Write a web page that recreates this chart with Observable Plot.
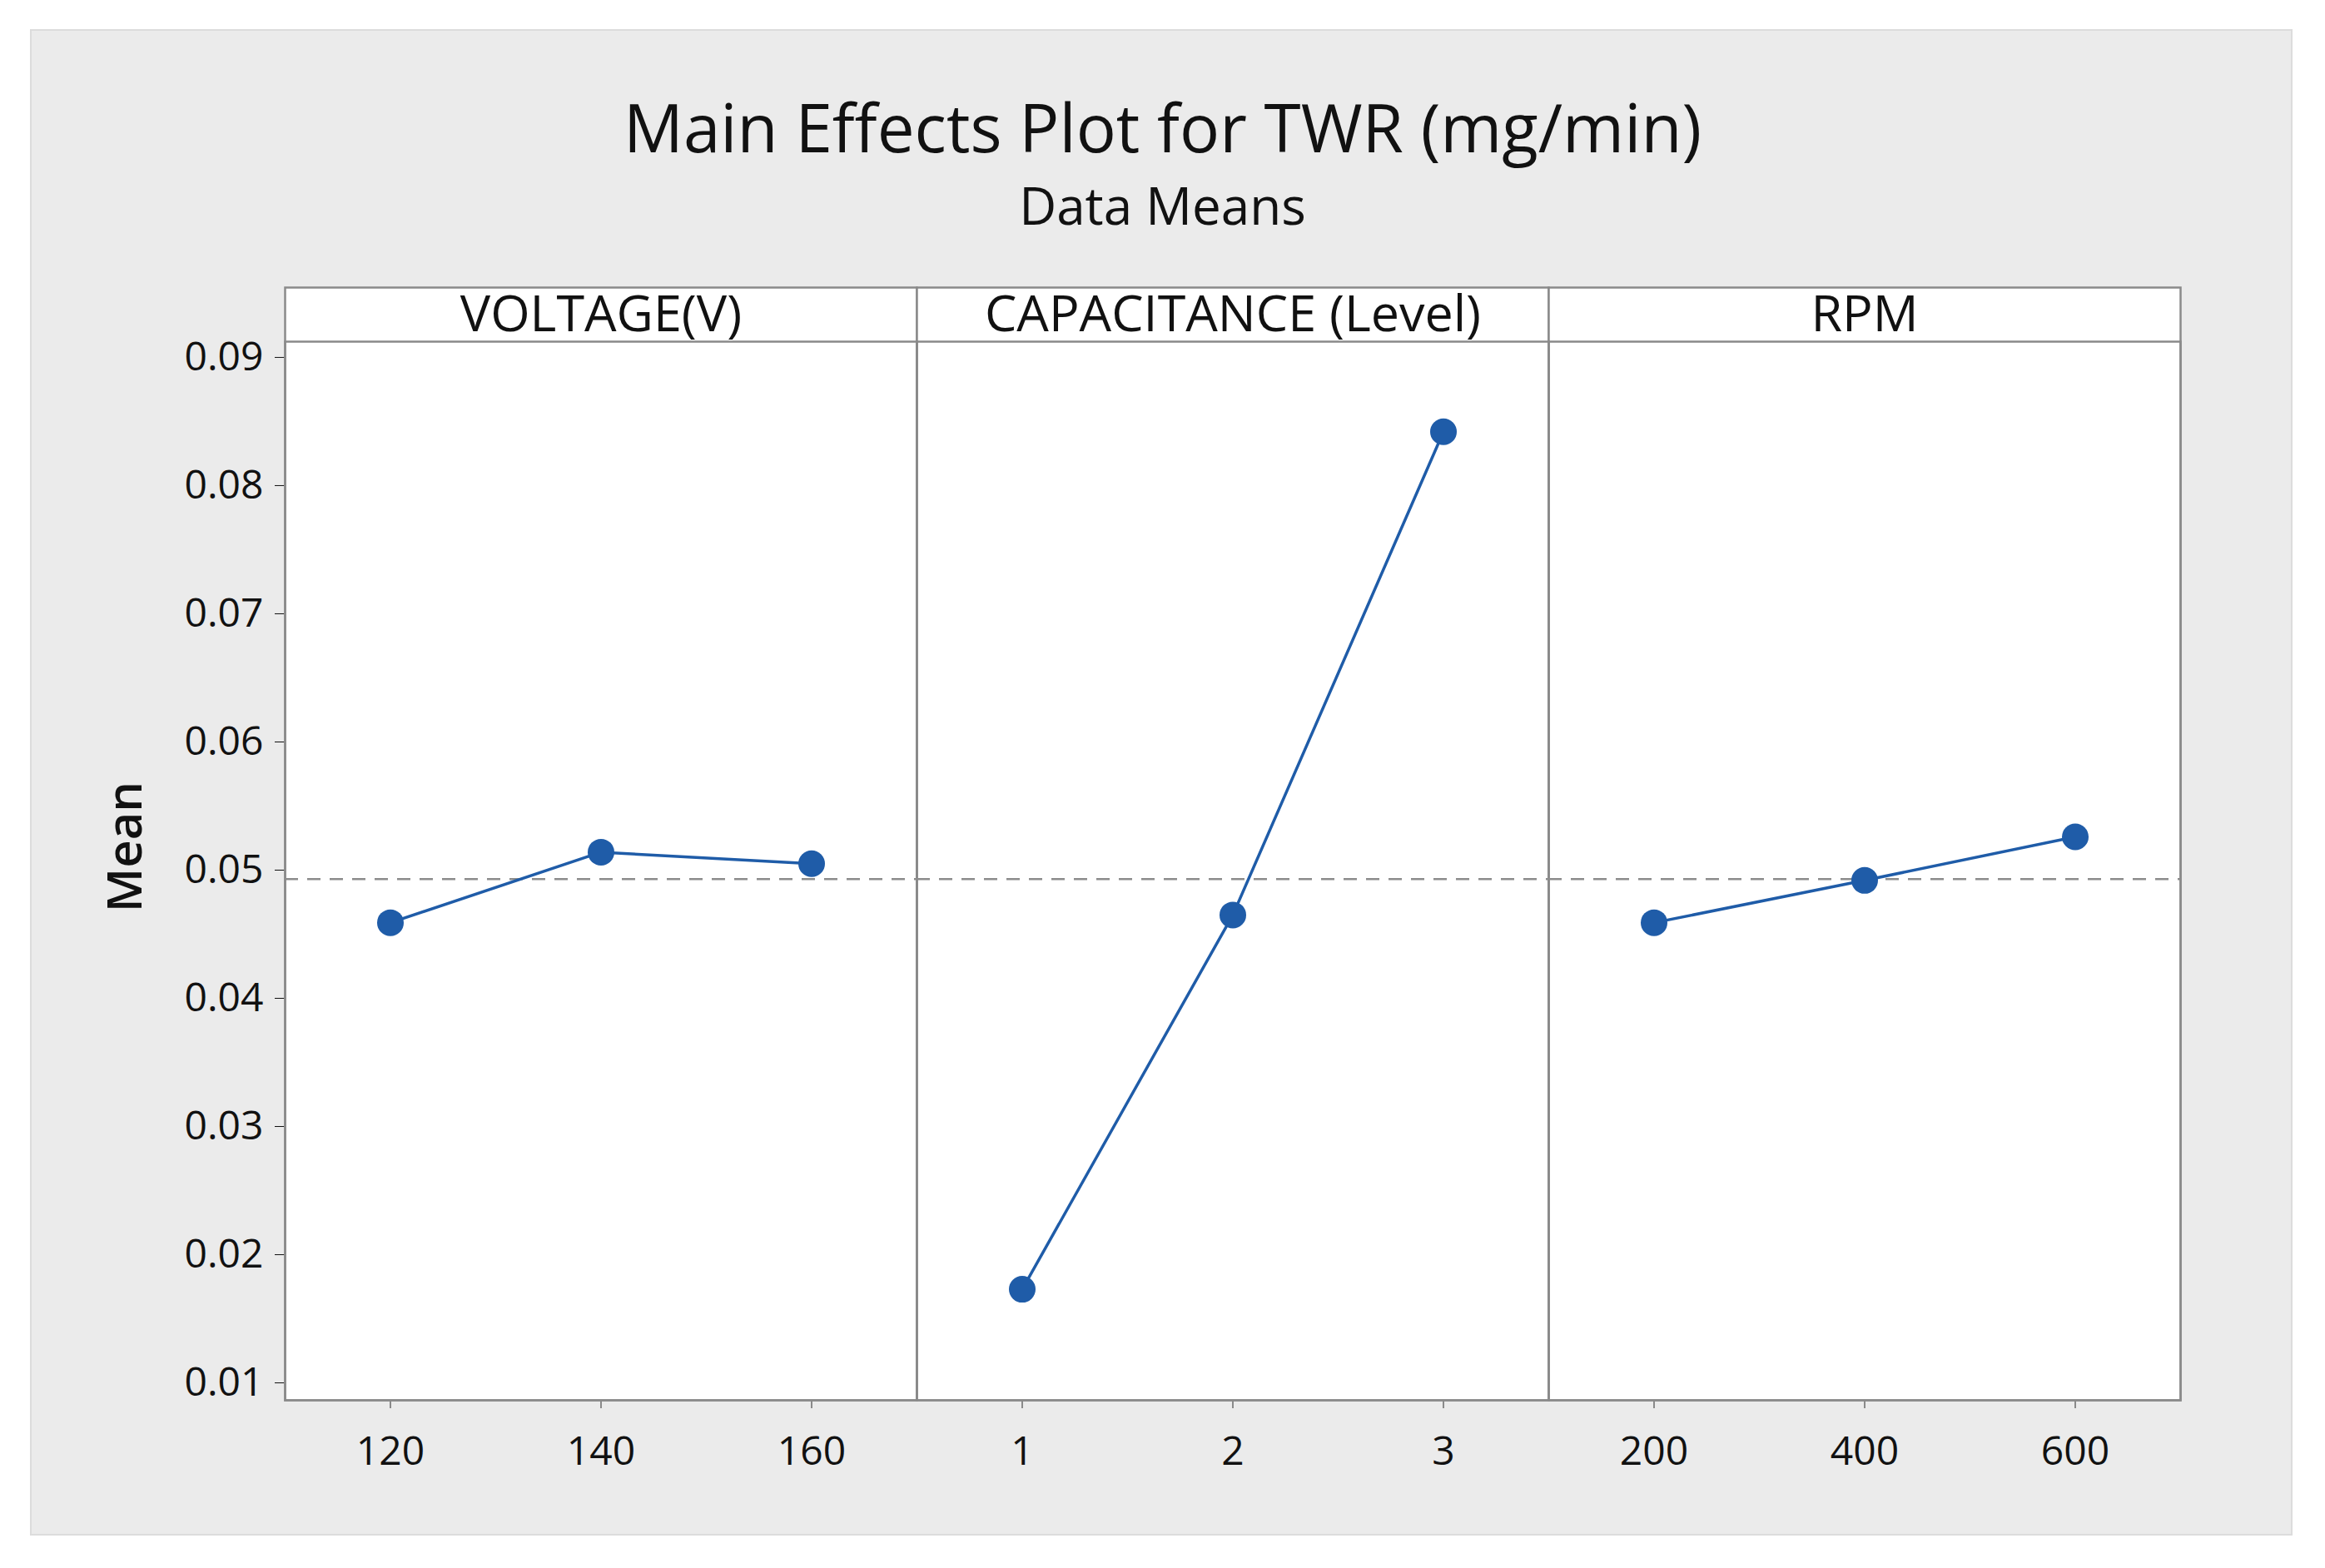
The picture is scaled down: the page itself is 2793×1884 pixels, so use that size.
<!DOCTYPE html>
<html>
<head>
<meta charset="utf-8">
<script src="https://cdn.jsdelivr.net/npm/d3@7"></script>
<script src="https://cdn.jsdelivr.net/npm/@observablehq/plot@0.6"></script>
<style>
  html, body { margin: 0; padding: 0; background: #ffffff; }
  body { width: 2793px; height: 1884px; position: relative; overflow: hidden; font-family: "Open Sans", sans-serif; }
  #panel { position: absolute; left: 36px; top: 35px; width: 2718px; height: 1810px; background: #ebebeb; border: 2px solid #dcdcdc; box-sizing: border-box; }
  .title { position: absolute; left: 0; width: 2793px; text-align: center; color: #111; font-weight: 500; }
  #title { top: 112px; font-size: 80px; line-height: 80px; }
  #subtitle { top: 215px; font-size: 62px; line-height: 62px; }
  #chart { position: absolute; left: 0; top: 290px; }
</style>
</head>
<body>
<div id="panel"></div>
<div class="title" id="title">Main Effects Plot for TWR (mg/min)</div>
<div class="title" id="subtitle">Data Means</div>
<div id="chart"></div>
<script>
// factors (panels) and their levels
const factors = ['VOLTAGE(V)', 'CAPACITANCE (Level)', 'RPM']
const voltageLevels = ['120', '140', '160']
const voltageMeans = [0.0459, 0.0514, 0.0505]
const capacitanceLevels = ['1', '2', '3']
const capacitanceMeans = [0.0173, 0.0465, 0.0842]
const rpmLevels = ['200', '400', '600']
const rpmMeans = [0.0459, 0.0492, 0.0526]
const grandMean = 0.0493
const yTicks = [0.01, 0.02, 0.03, 0.04, 0.05, 0.06, 0.07, 0.08, 0.09]

const levelsByFactor = [voltageLevels, capacitanceLevels, rpmLevels]
const meansByFactor = [voltageMeans, capacitanceMeans, rpmMeans]

let rows = []
factors.forEach((f, k) => {
  levelsByFactor[k].forEach((lev, i) => {
    rows.push({factor: f, i: i, level: lev, mean: meansByFactor[k][i]})
  })
})

const W = 2793, H = 1500
const mTop = 120, mBottom = 108, mLeft = 341, mRight = 174
const stripH = 65
const plotH = H - mTop - mBottom
const blue = '#1f5ca8'
const frameGray = '#8a8a8a'

let chart = Plot.plot({
  width: W,
  height: H,
  marginTop: mTop,
  marginBottom: mBottom,
  marginLeft: mLeft,
  marginRight: mRight,
  fx: { domain: factors, padding: 0, axis: null },
  x: { domain: [-0.5, 2.5], axis: null },
  y: {
    domain: [0.00864, 0.09123],
    ticks: yTicks,
    tickFormat: '.2f',
    tickSize: 12,
    tickPadding: 14,
    label: null
  },
  marks: [
    // strip header + plot area
    Plot.frame({ insetTop: -stripH, fill: 'white', stroke: frameGray, strokeWidth: 2.5 }),
    Plot.frame({ stroke: frameGray, strokeWidth: 2.5 }),
    Plot.text(factors, {
      fx: d => d, text: d => d, frameAnchor: 'top', dy: -stripH / 2,
      lineAnchor: 'middle', fontSize: 61, fontWeight: 500, fill: '#111'
    }),
    // overall mean
    Plot.ruleY([grandMean], { stroke: '#8c8c8c', strokeWidth: 2.5, strokeDasharray: '16,11' }),
    Plot.line(rows, { fx: 'factor', x: 'i', y: 'mean', stroke: blue, strokeWidth: 3.5 }),
    Plot.dot(rows, { fx: 'factor', x: 'i', y: 'mean', r: 16, fill: blue, stroke: 'none' }),
    // x ticks and level labels per panel
    Plot.ruleX(rows, { fx: 'factor', x: 'i', insetTop: plotH, insetBottom: -10, stroke: '#8a8a8a', strokeWidth: 2 }),
    Plot.text(rows, {
      fx: 'factor', x: 'i', text: 'level', frameAnchor: 'bottom', dy: 62,
      lineAnchor: 'middle', fontSize: 48, fill: '#111'
    }),
    Plot.text(['Mean'], {
      fx: () => factors[0], text: d => d, frameAnchor: 'left', dx: -191, dy: -29,
      rotate: -90, textAnchor: 'middle', lineAnchor: 'middle',
      fontSize: 58, fontWeight: 600, fill: '#111'
    })
  ],
  style: {
    fontFamily: 'Open Sans, sans-serif',
    fontSize: 48,
    background: 'transparent',
    color: '#111',
    overflow: 'visible'
  }
})
d3.select('#chart').append(() => chart)
</script>
</body>
</html>
